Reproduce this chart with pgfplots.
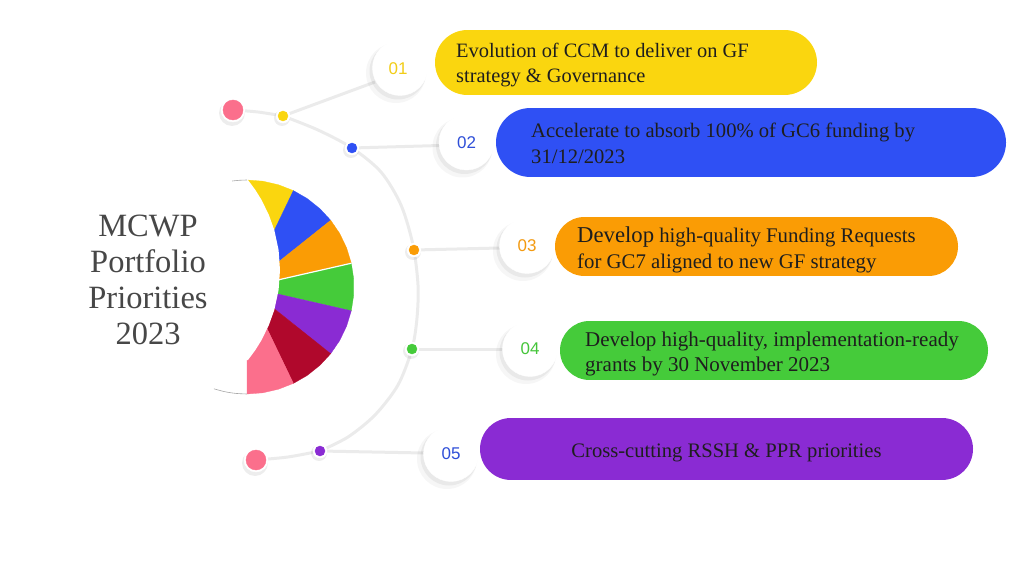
\documentclass[border=0pt]{standalone}
\usepackage{fontspec}
\setmainfont{Liberation Serif}
\newfontfamily\sansnum{Liberation Sans}
\usepackage{pgfplots}
\pgfplotsset{compat=1.18}
\definecolor{cyel}{HTML}{FAD60F}
\definecolor{cblu}{HTML}{2F50F4}
\definecolor{cora}{HTML}{FA9C05}
\definecolor{cgre}{HTML}{45CB3A}
\definecolor{cpur}{HTML}{8A2BD3}
\definecolor{cred}{HTML}{B0082C}
\definecolor{cpin}{HTML}{FB6F8C}
\definecolor{cline}{HTML}{EBEBEB}
\definecolor{ctxt}{HTML}{1E1E1E}
\definecolor{ctitle}{HTML}{474747}
\definecolor{nyel}{HTML}{F2CD17}
\definecolor{nblu}{HTML}{2F4FD8}
\definecolor{nora}{HTML}{F39A10}
\definecolor{ngre}{HTML}{45C53A}
\begin{document}
\begin{tikzpicture}
\begin{axis}[x=1bp,y=1bp,xmin=0,xmax=1024,ymin=0,ymax=576,y dir=reverse,
  hide axis, clip=false, clip marker paths=true]
\addplot[draw=none, forget plot] coordinates {(0,0)(1024,576)};
% ---- connecting lines ----
\addplot[cline, line width=3bp, smooth, mark=none] coordinates {(283,116)(318,130)(352,148)(381,172)(401,205)(413,245)(418,285)(417,318)(412,349)(398,385)(375,415)(348,437)(320,451)};
\addplot[cline, line width=3bp, mark=none] coordinates {(283,116)(375,82)};
\addplot[cline, line width=3bp, mark=none] coordinates {(352,148)(440,145.5)};
\addplot[cline, line width=3bp, mark=none] coordinates {(414,250)(500,248)};
\addplot[cline, line width=3bp, mark=none] coordinates {(412,349)(503,349)};
\addplot[cline, line width=3bp, mark=none] coordinates {(320,451)(424,453)};
\addplot[cline, line width=3bp, smooth, mark=none] coordinates {(233,110)(258,112)(283,116)};
\addplot[cline, line width=3bp, smooth, mark=none] coordinates {(256,460)(288,457)(320,451)};
% ---- pie (7 equal slices, right half) ----
\addplot[fill=cyel,draw=cyel,line width=0.3bp, mark=none] coordinates {(247,287)(247,180)(262.9,181.2)(278.5,184.8)(293.4,190.6)} -- cycle;
\addplot[fill=cblu,draw=cblu,line width=0.3bp, mark=none] coordinates {(247,287)(293.4,190.6)(307.3,198.6)(319.8,208.6)(330.7,220.3)} -- cycle;
\addplot[fill=cora,draw=cora,line width=0.3bp, mark=none] coordinates {(247,287)(330.7,220.3)(339.7,233.5)(346.6,247.9)(351.3,263.2)} -- cycle;
\addplot[fill=cgre,draw=cgre,line width=0.3bp, mark=none] coordinates {(247,287)(351.3,263.2)(353.7,279.0)(353.7,295.0)(351.3,310.8)} -- cycle;
\addplot[fill=cpur,draw=cpur,line width=0.3bp, mark=none] coordinates {(247,287)(351.3,310.8)(346.6,326.1)(339.7,340.5)(330.7,353.7)} -- cycle;
\addplot[fill=cred,draw=cred,line width=0.3bp, mark=none] coordinates {(247,287)(330.7,353.7)(319.8,365.4)(307.3,375.4)(293.4,383.4)} -- cycle;
\addplot[fill=cpin,draw=cpin,line width=0.3bp, mark=none] coordinates {(247,287)(293.4,383.4)(278.5,389.2)(262.9,392.8)(247,394)} -- cycle;
\addplot[white, line width=1.2bp, mark=none] coordinates {(247,287)(351.5,263.2)};
% inner white hole
\addplot[fill=white, draw=none, mark=none] coordinates {(236,176)(248,176)(248,180)(255.4,190)(261.6,200)(268.9,215)(274.3,230)(278.6,250)(280,270)(278.6,290)(274.3,310)(268.9,325)(261.6,340)(255.4,350)(248,360)(236,360)} -- cycle;
% thin outline arcs
\addplot[gray!70, line width=0.6bp, smooth, mark=none] coordinates {(247,180)(239.5,180.3)(232.1,181.0)};
\addplot[gray!70, line width=0.6bp, smooth, mark=none] coordinates {(247,394)(235.8,393.4)(224.8,391.7)(213.9,388.8)};
% ---- number circles ----
\addplot[only marks, mark=*, color=black, mark size=30bp, mark options={draw opacity=0, fill opacity=0.035}] coordinates {(396,73)(462.5,147.5)(523,251)(526,354)(447,459)};
\addplot[only marks, mark=*, color=black, mark size=28.5bp, mark options={draw opacity=0, fill opacity=0.05}] coordinates {(398,71)(464.5,145.5)(525,249)(528,352)(449,457)};
\addplot[only marks, mark=*, color=white, mark size=27.5bp] coordinates {(400,68)(466.5,142.5)(527,246)(530,349)(451,454)};
% ---- dots ----
\addplot[only marks, mark=*, color=black, mark size=8bp, mark options={draw opacity=0, fill opacity=0.07}] coordinates {(282,118)(351,150)(413,252)(411,351)(319,453)};
\addplot[only marks, mark=*, color=black, mark size=13bp, mark options={draw opacity=0, fill opacity=0.07}] coordinates {(232,113)(255,463)};
\addplot[only marks, mark=*, color=white, mark size=7bp] coordinates {(283,116)(352,148)(414,250)(412,349)(320,451)};
\addplot[only marks, mark=*, color=white, mark size=12bp] coordinates {(233,110)(256,460)};
\addplot[only marks, mark=*, color=cyel, mark size=5bp] coordinates {(283,116)};
\addplot[only marks, mark=*, color=cblu, mark size=5bp] coordinates {(352,148)};
\addplot[only marks, mark=*, color=cora, mark size=5bp] coordinates {(414,250)};
\addplot[only marks, mark=*, color=cgre, mark size=5bp] coordinates {(412,349)};
\addplot[only marks, mark=*, color=cpur, mark size=5bp] coordinates {(320,451)};
\addplot[only marks, mark=*, color=cpin, mark size=10bp] coordinates {(233,110)(256,460)};
% ---- pills ----
\addplot[cyel, line width=65bp, line cap=round, mark=none] coordinates {(467.5,62.5)(784.5,62.5)};
\addplot[cblu, line width=69bp, line cap=round, mark=none] coordinates {(530.5,142.5)(971.5,142.5)};
\addplot[cora, line width=59bp, line cap=round, mark=none] coordinates {(584.5,246.5)(928.5,246.5)};
\addplot[cgre, line width=59bp, line cap=round, mark=none] coordinates {(589.5,350.5)(958.5,350.5)};
\addplot[cpur, line width=62bp, line cap=round, mark=none] coordinates {(511,449)(942,449)};
% ---- texts ----
\begin{scope}[every node/.style={inner sep=0pt, text=ctxt, font=\fontsize{20.6bp}{24bp}\selectfont}]
\node[anchor=base west, font=\fontsize{20.4bp}{24bp}\selectfont] at (axis cs:456,57.5) {Evolution of CCM to deliver on GF};
\node[anchor=base west, font=\fontsize{20.4bp}{24bp}\selectfont] at (axis cs:456,82.5) {strategy \& Governance};
\node[anchor=base west] at (axis cs:531,138) {Accelerate to absorb 100\% of GC6 funding by};
\node[anchor=base west] at (axis cs:531,164) {31/12/2023};
\node[anchor=base west, font=\fontsize{20.8bp}{24bp}\selectfont] at (axis cs:577,243) {{\fontsize{22.7bp}{26bp}\selectfont Develop} high-quality Funding Requests};
\node[anchor=base west, font=\fontsize{20.8bp}{24bp}\selectfont] at (axis cs:577,269) {for GC7 aligned to new GF strategy};
\node[anchor=base west, font=\fontsize{21bp}{24bp}\selectfont] at (axis cs:585,346) {Develop high-quality, implementation-ready};
\node[anchor=base west, font=\fontsize{21bp}{24bp}\selectfont] at (axis cs:585,371) {grants by 30 November 2023};
\node[anchor=base] at (axis cs:726.5,457) {Cross-cutting RSSH \& PPR priorities};
\end{scope}
\node[inner sep=0pt, text=nyel, font=\sansnum\fontsize{17bp}{20bp}\selectfont] at (axis cs:398,69) {01};
\node[inner sep=0pt, text=nblu, font=\sansnum\fontsize{17bp}{20bp}\selectfont] at (axis cs:466.5,143) {02};
\node[inner sep=0pt, text=nora, font=\sansnum\fontsize{17bp}{20bp}\selectfont] at (axis cs:527,246) {03};
\node[inner sep=0pt, text=ngre, font=\sansnum\fontsize{17bp}{20bp}\selectfont] at (axis cs:530,349) {04};
\node[inner sep=0pt, text=nblu, font=\sansnum\fontsize{17bp}{20bp}\selectfont] at (axis cs:451,454) {05};
\node[inner sep=0pt, align=center, text=ctitle, font=\fontsize{32.5bp}{36bp}\selectfont] at (axis cs:148,280) {MCWP\\Portfolio\\Priorities\\2023};
\end{axis}
\end{tikzpicture}
\end{document}
